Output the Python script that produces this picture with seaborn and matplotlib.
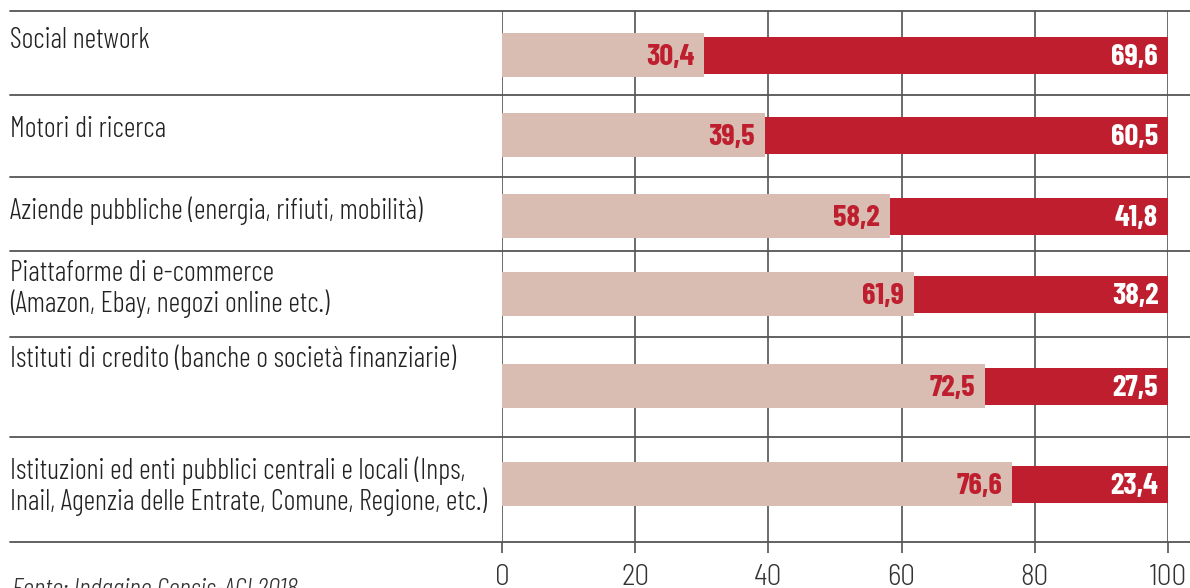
import numpy as np
import pandas as pd
import matplotlib
matplotlib.use("Agg")
import matplotlib.pyplot as plt
from matplotlib.lines import Line2D
import seaborn as sns

# ---- data ----
categories = [
    "Social network",
    "Motori di ricerca",
    "Aziende pubbliche (energia, rifiuti, mobilità)",
    "Piattaforme di e-commerce\n(Amazon, Ebay, negozi online etc.)",
    "Istituti di credito (banche o società finanziarie)",
    "Istituzioni ed enti pubblici centrali e locali (Inps,\nInail, Agenzia delle Entrate, Comune, Regione, etc.)",
]
beige_values = [30.4, 39.5, 58.2, 61.9, 72.5, 76.6]
red_values = [69.6, 60.5, 41.8, 38.2, 27.5, 23.4]
x_ticks = [0, 20, 40, 60, 80, 100]
source_text = "Fonte: Indagine Censis-ACI 2018"

# ---- layout (figure pixels from top) ----
W, H = 1190, 588
row_centers = [55, 135, 216, 294, 386, 484]
label_last_baselines = [48, 137, 219, 312, 367, 510]
separators = [11, 95, 177, 251, 337, 437, 542]
ax_left, ax_right, ax_top, ax_bottom = 502, 1168, 11, 542

BEIGE = "#D9BDB2"
RED = "#BE1E2D"
TEXT = "#222222"
FONT = ["Barlow Condensed", "DejaVu Sans"]
TICKFONT = ["Barlow Semi Condensed", "Barlow Condensed", "DejaVu Sans"]

sns.set_style("white")
plt.rcParams["font.family"] = FONT
plt.rcParams["font.weight"] = 300

df = pd.DataFrame({
    "cat": categories,
    "beige": beige_values,
    "red": red_values,
    "ypos": row_centers,
})
df["total"] = df["beige"] + df["red"]

fig = plt.figure(figsize=(W / 100, H / 100), dpi=100)
ax = fig.add_axes([ax_left / W, (H - ax_bottom) / H,
                   (ax_right - ax_left) / W, (ax_bottom - ax_top) / H])

native = np.min(np.diff(sorted(row_centers)))
sns.barplot(data=df, x="total", y="ypos", orient="y", native_scale=True,
            width=37 / native, color=RED, saturation=1, errorbar=None,
            linewidth=0, ax=ax, zorder=2)
sns.barplot(data=df, x="beige", y="ypos", orient="y", native_scale=True,
            width=44 / native, color=BEIGE, saturation=1, errorbar=None,
            linewidth=0, ax=ax, zorder=3)

ax.set_xlim(0, 100)
ax.set_ylim(ax_bottom, ax_top)
ax.set_xticks(x_ticks)
ax.set_xticklabels([str(t) for t in x_ticks])
ax.set_yticks([])
ax.set_xlabel("")
ax.set_ylabel("")
for s in ax.spines.values():
    s.set_visible(False)
ax.set_axisbelow(True)
ax.xaxis.grid(True, color="#444444", linewidth=1.1)
ax.yaxis.grid(False)
ax.tick_params(axis="x", bottom=True, length=8, width=1.1, color="#444444",
               pad=8, labelsize=21, labelcolor="#333333")
for t in ax.get_xticklabels():
    t.set_family(TICKFONT)
    t.set_fontweight(300)

# value labels
pad = 1.5
for yc, b, r in zip(df["ypos"], df["beige"], df["red"]):
    ax.text(b - pad, yc + 10, f"{b:.1f}".replace(".", ","), ha="right",
            va="baseline", color=RED, fontsize=22, fontweight=700,
            zorder=5)
    ax.text(b + r - pad, yc + 10, f"{r:.1f}".replace(".", ","), ha="right",
            va="baseline", color="white", fontsize=22, fontweight=700,
            zorder=5)

# separators
for yp in separators:
    fig.add_artist(Line2D([10 / W, 1.0], [(H - yp) / H] * 2,
                          transform=fig.transFigure, color="#555555",
                          linewidth=1.3, zorder=4))

# category labels
for lab, yb in zip(categories, label_last_baselines):
    fig.text(10 / W, (H - yb) / H, lab, ha="left", va="baseline",
             fontsize=20.5, color=TEXT, linespacing=1.12, fontweight=300)

# source
fig.text(12 / W, (H - 597) / H, source_text, ha="left", va="baseline",
         fontsize=20, style="italic", color="#333333", fontweight=300)

fig.savefig("out.png", dpi=100)
